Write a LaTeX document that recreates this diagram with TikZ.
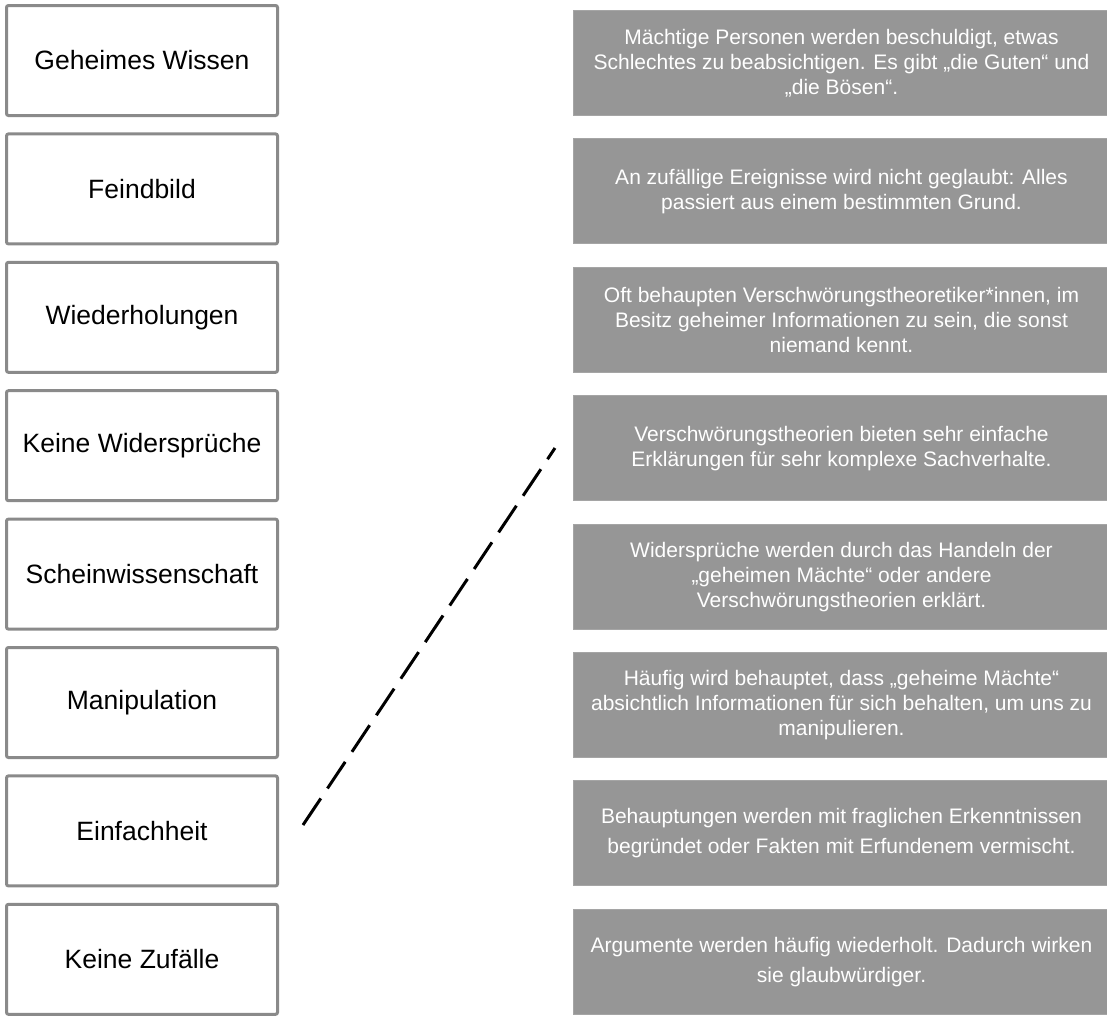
\documentclass[tikz,border=0pt]{standalone}
\usepackage{fontspec}
\setmainfont{Liberation Sans}
\usetikzlibrary{positioning}
\definecolor{rahmen}{RGB}{138,138,138}
\definecolor{kasten}{RGB}{150,150,150}
\definecolor{kastenrand}{RGB}{165,165,165}

\begin{document}
\begin{tikzpicture}[x=1pt,y=-1pt,node distance=128.4pt,
  begriff/.style={draw=rahmen,line width=3pt,rounded corners=2pt,fill=white,inner sep=0pt,
    minimum width=271pt,minimum height=110pt,font=\fontsize{26.5}{30}\selectfont},
  erklaerung/.style={fill=kasten,draw=kastenrand,line width=1pt,inner sep=0pt,text=white,align=center,
    minimum width=537pt,minimum height=105pt,font=\fontsize{21}{25}\selectfont},
  weit/.style={font=\fontsize{21}{30}\selectfont}]
\useasboundingbox (0,0) rectangle (1107,1018);

% linke Spalte
\node[begriff] (wissen) at (142,60.5) {Geheimes Wissen};
\node[begriff] (feind) [below of=wissen] {Feindbild};
\node[begriff] (wdh) [below of=feind] {Wiederholungen};
\node[begriff] (keinwid) [below of=wdh] {Keine Widersprüche};
\node[begriff] (schein) [below of=keinwid] {Scheinwissenschaft};
\node[begriff] (manipul) [below of=schein] {Manipulation};
\node[begriff] (einfachheit) [below of=manipul] {Einfachheit};
\node[begriff] (zufall) [below of=einfachheit] {Keine Zufälle};

% rechte Spalte
\node[erklaerung] (boese) at (841.5,63) {Mächtige Personen werden beschuldigt, etwas\\Schlechtes zu beabsichtigen. Es gibt „die Guten“ und\\„die Bösen“.};
\node[erklaerung] (grund) [below of=boese] {An zufällige Ereignisse wird nicht geglaubt: Alles\\passiert aus einem bestimmten Grund.};
\node[erklaerung] (geheim) [below of=grund] {Oft behaupten Verschwörungstheoretiker*innen, im\\Besitz geheimer Informationen zu sein, die sonst\\niemand kennt.};
\node[erklaerung] (einfach) [below of=geheim] {Verschwörungstheorien bieten sehr einfache\\Erklärungen für sehr komplexe Sachverhalte.};
\node[erklaerung] (widerspruch) [below of=einfach] {Widersprüche werden durch das Handeln der\\„geheimen Mächte“ oder andere\\Verschwörungstheorien erklärt.};
\node[erklaerung] (manip) [below of=widerspruch] {Häufig wird behauptet, dass „geheime Mächte“\\absichtlich Informationen für sich behalten, um uns zu\\manipulieren.};
\node[erklaerung,weit] (pseudo) [below of=manip] {Behauptungen werden mit fraglichen Erkenntnissen\\begründet oder Fakten mit Erfundenem vermischt.};
\node[erklaerung,weit] (wiederh) [below of=pseudo] {Argumente werden häufig wiederholt. Dadurch wirken\\sie glaubwürdiger.};

% gestrichelte Zuordnung
\coordinate (strichA) at (303,825);
\coordinate (strichB) at (555,448);
\draw[line width=3pt,dash pattern=on 32pt off 12pt] (strichA) -- (strichB);
\end{tikzpicture}
\end{document}
